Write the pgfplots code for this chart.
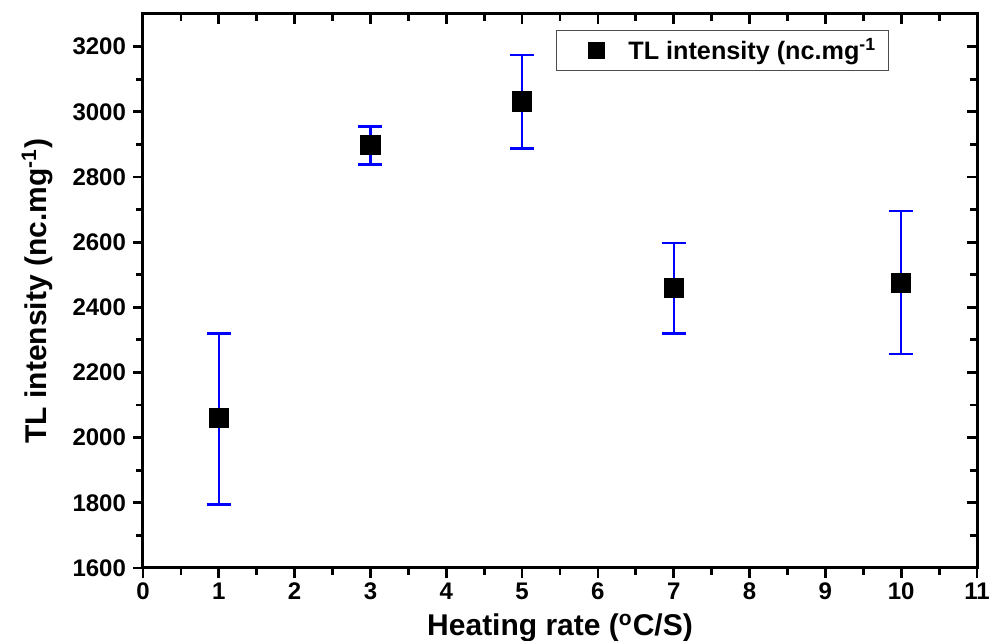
\documentclass[border=0pt]{standalone}
\usepackage{fontspec}
\setmainfont{Liberation Sans}
\usepackage{pgfplots}
\pgfplotsset{compat=1.18}
\begin{document}
\begin{tikzpicture}[x=1pt,y=1pt]
\pgfplotsset{
  common/.style={
    width=417pt, height=277pt, scale only axis,
    xmin=0, xmax=11, ymin=1600, ymax=3300,
    xtick={0,...,11}, minor x tick num=1,
    ytick={1600,1800,...,3200}, minor y tick num=1,
    axis line style={line width=1.5pt},
    every tick/.style={line width=1.4pt, black},
    major tick length=5pt, minor tick length=3.5pt,
  }
}
\begin{axis}[common,
  tick align=outside, xtick pos=left, ytick pos=left,
  /pgf/number format/assume math mode=true,
  /pgf/number format/1000 sep={},
  tick label style={font=\fontsize{12}{14}\selectfont\bfseries},
  xticklabel style={yshift=1pt},
  xlabel={Heating rate (\textsuperscript{o}C/S)},
  ylabel={TL intensity (nc.mg\textsuperscript{-1})},
  label style={font=\fontsize{15}{17}\selectfont\bfseries},
  xlabel style={yshift=0pt},
  ylabel style={yshift=3pt},
  legend style={at={(0.495,0.971)}, anchor=north west, draw=black!70, line width=0.6pt,
    font=\fontsize{12.6}{14}\selectfont\bfseries, inner xsep=4pt, inner ysep=2pt},
  legend cell align=left,
  legend image code/.code={\path[draw=none] (0pt,0pt) -- (30pt,0pt);
     \draw[mark size=4pt] plot coordinates {(16pt,0pt)};},
]
\addplot[only marks, mark=square*, mark size=4.8pt, black,
  error bars/.cd, y dir=both, y explicit,
  error bar style={blue, line width=1.2pt},
  error mark options={rotate=90, blue, mark size=6pt, line width=1.2pt}]
  table[x=x, y=y, y error plus=ep, y error minus=em] {
x   y     ep   em
1   2060  260  265
3   2898  57   60
5   3032  143  145
7   2460  138  140
10  2475  220  218
};
\legend{TL intensity (nc.mg\textsuperscript{-1}}
\end{axis}
\begin{axis}[common,
  tick align=inside, xtick pos=right, ytick pos=right,
  xticklabels={}, yticklabels={}, axis line style={draw=none}]
\end{axis}
\pgfresetboundingbox
\path (-71.5pt,-36.5pt) rectangle (428.5pt,284pt);
\end{tikzpicture}
\end{document}
